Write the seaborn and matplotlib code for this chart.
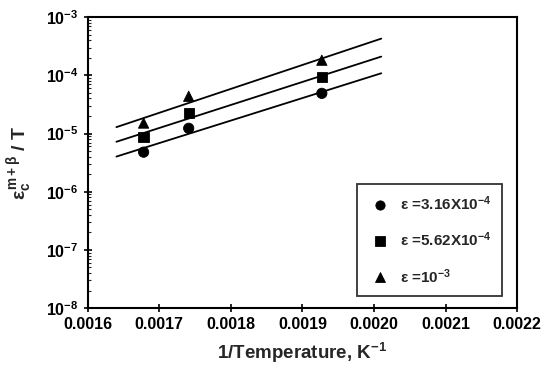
import numpy as np
import pandas as pd
import matplotlib
matplotlib.use("Agg")
import matplotlib.pyplot as plt
import seaborn as sns

# data
inv_temp = [0.001678, 0.001741, 0.001927]
circle_vals = [10**-5.32, 10**-4.91, 10**-4.31]
square_vals = [10**-5.06, 10**-4.65, 10**-4.03]
triangle_vals = [10**-4.82, 10**-4.36, 10**-3.74]
series_labels = [r"$\varepsilon$ =3.16X10$^{-4}$", r"$\varepsilon$ =5.62X10$^{-4}$", r"$\varepsilon$ =10$^{-3}$"]
fit_range = [0.00164, 0.00201]
x_ticks = [0.0016, 0.0017, 0.0018, 0.0019, 0.0020, 0.0021, 0.0022]
y_ticks = [1e-8, 1e-7, 1e-6, 1e-5, 1e-4, 1e-3]

sns.set_style("ticks")
plt.rcParams['font.family'] = ['Liberation Sans', 'DejaVu Sans']
plt.rcParams['font.weight'] = 'bold'
plt.rcParams['mathtext.fontset'] = 'custom'
plt.rcParams['mathtext.rm'] = 'Liberation Sans:bold'
plt.rcParams['mathtext.it'] = 'Liberation Sans:bold'
plt.rcParams['mathtext.bf'] = 'Liberation Sans:bold'

rows = []
for lab, vals in zip(series_labels, [circle_vals, square_vals, triangle_vals]):
    for x, v in zip(inv_temp, vals):
        rows.append({"x": x, "y": v, "series": lab})
df = pd.DataFrame(rows)

fig = plt.figure(figsize=(5.52, 3.8), dpi=100)
ax = fig.add_axes([0.159, 0.189, 0.778, 0.766])

# fitted lines
xs = np.linspace(fit_range[0], fit_range[1], 50)
line_rows = []
for lab, vals in zip(series_labels, [circle_vals, square_vals, triangle_vals]):
    p = np.polyfit(inv_temp, np.log10(vals), 1)
    for x in xs:
        line_rows.append({"x": x, "y": 10**np.polyval(p, x), "series": lab})
ldf = pd.DataFrame(line_rows)
sns.lineplot(data=ldf, x="x", y="y", units="series", estimator=None, color="black",
             lw=1.3, ax=ax, legend=False)

sns.scatterplot(data=df, x="x", y="y", style="series", markers=["o", "s", "^"],
                color="black", s=55, edgecolor="black", ax=ax)

ax.set_yscale("log")
ax.set_xlim(0.0016, 0.0022)
ax.set_ylim(1e-8, 1e-3)
ax.set_xticks(x_ticks)
ax.set_xticklabels([f"{t:.4f}" for t in x_ticks], fontsize=11.5, fontweight='bold')
ax.set_yticks(y_ticks)
ax.set_yticklabels([r"10$^{%d}$" % int(np.log10(t)) for t in y_ticks], fontsize=11.5)
ax.tick_params(axis='both', which='major', direction='inout', length=6, width=1.2, colors='black')
ax.tick_params(axis='y', which='minor', direction='in', length=2.5, width=0.8)
for sp in ax.spines.values():
    sp.set_linewidth(1.5)
    sp.set_color('black')
    sp.set_visible(True)

ax.set_xlabel(r"1/Temperature, K$^{-1}$", fontsize=13.5, fontweight='bold', labelpad=6)
ax.set_ylabel(r"$\varepsilon_c^{m+\beta}$ / T", fontsize=14, fontweight='bold', labelpad=8)

leg = ax.legend(loc="lower right", bbox_to_anchor=(0.965, 0.041), frameon=True,
                fancybox=False, edgecolor="black", fontsize=11, labelspacing=1.15,
                handletextpad=0.5, borderpad=0.7, borderaxespad=0, handlelength=1.6,
                markerscale=0.9, title=None)
leg.get_frame().set_linewidth(1.3)

fig.savefig("out.png", dpi=100)
